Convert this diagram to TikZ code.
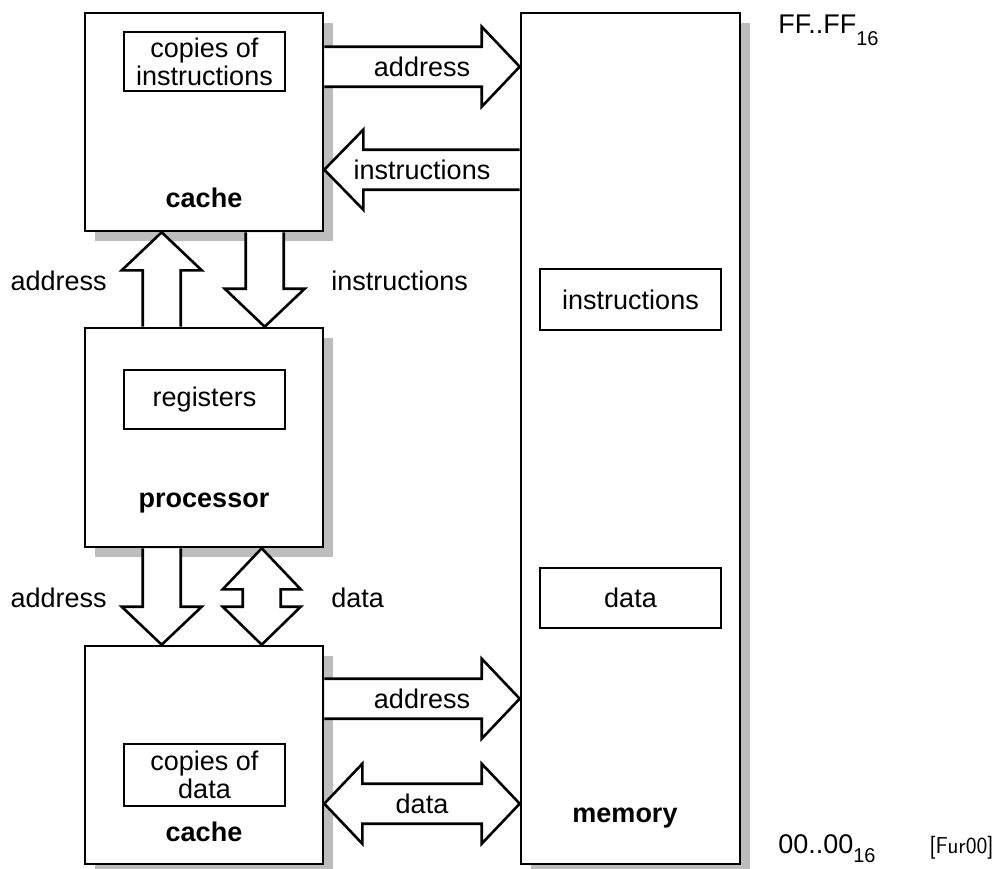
\documentclass[tikz,border=0pt]{standalone}
\usepackage{fontspec}
\setmainfont{Liberation Sans}
\usetikzlibrary{calc,shadows}
\newcommand\RArrow[2]{\draw[barrow] ($(#1)+(0,-20)$) -- ($(#2)+(-38,-20)$) -- ($(#2)+(-38,-40)$) -- (#2) -- ($(#2)+(-38,40)$) -- ($(#2)+(-38,20)$) -- ($(#1)+(0,20)$);}
\newcommand\LArrow[2]{\draw[barrow] ($(#1)+(0,-20)$) -- ($(#2)+(39,-20)$) -- ($(#2)+(39,-40)$) -- (#2) -- ($(#2)+(39,40)$) -- ($(#2)+(39,20)$) -- ($(#1)+(0,20)$);}
\newcommand\HDArrow[2]{\draw[barrow] (#1) -- ($(#1)+(38,-40)$) -- ($(#1)+(38,-20)$) -- ($(#2)+(-38,-20)$) -- ($(#2)+(-38,-40)$) -- (#2) -- ($(#2)+(-38,40)$) -- ($(#2)+(-38,20)$) -- ($(#1)+(38,20)$) -- ($(#1)+(38,40)$) -- cycle;}
\newcommand\UArrow[2]{\draw[barrow] ($(#1)+(-19,0)$) -- ($(#2)+(-19,38)$) -- ($(#2)+(-40,38)$) -- (#2) -- ($(#2)+(40,38)$) -- ($(#2)+(19,38)$) -- ($(#1)+(19,0)$);}
\newcommand\DArrow[2]{\draw[barrow] ($(#1)+(-19,0)$) -- ($(#2)+(-19,-38)$) -- ($(#2)+(-40,-38)$) -- (#2) -- ($(#2)+(40,-38)$) -- ($(#2)+(19,-38)$) -- ($(#1)+(19,0)$);}
\newcommand\VDArrow[2]{\draw[barrow] (#1) -- ($(#1)+(39,41)$) -- ($(#1)+(19,41)$) -- ($(#2)+(19,-38)$) -- ($(#2)+(39,-38)$) -- (#2) -- ($(#2)+(-39,-38)$) -- ($(#2)+(-19,-38)$) -- ($(#1)+(-19,41)$) -- ($(#1)+(-39,41)$) -- cycle;}
\begin{document}
\begin{tikzpicture}[x=1pt,y=-1pt,line width=2.6pt,line join=miter,
  box/.style={draw,fill=white,minimum width=238pt,inner sep=0pt,
    drop shadow={shadow xshift=10pt,shadow yshift=-10pt,fill=black!26,opacity=1}},
  inbox/.style={draw,fill=white,minimum width=161pt,minimum height=60pt,inner sep=0pt,align=center,font=\fontsize{27}{28}\selectfont},
  lbl/.style={font=\fontsize{27}{28}\selectfont,inner sep=0pt},
  ttl/.style={font=\fontsize{27}{28}\selectfont\bfseries,inner sep=0pt},
  barrow/.style={draw,fill=white,line width=2.6pt}]
\useasboundingbox (0,0) rectangle (996,868);
% main boxes
\node[box,minimum height=218pt] (cI) at (204,122) {};
\node[box,minimum height=219pt] (proc) at (204,437.5) {};
\node[box,minimum height=218pt] (cD) at (204,755) {};
\node[box,minimum width=219pt,minimum height=851pt] (mem) at (630.5,438.5) {};
% inner boxes
\node[inbox,minimum height=59pt] (cpi) at (204.5,61.5) {copies of\\instructions};
\node[inbox,minimum height=59pt] (reg) at (204.5,399.5) {registers};
\node[inbox,minimum height=62pt] (cpd) at (204.5,775) {copies of\\data};
\node[inbox,minimum width=181pt,minimum height=61pt] (mi) at (630.5,299.5) {instructions};
\node[inbox,minimum width=181pt,minimum height=60pt] (md) at (630.5,598) {data};
% titles
\node[ttl] (tcI) at (204,198) {cache};
\node[ttl] (tproc) at (204,503) {processor};
\node[ttl] (tcD) at (204,832) {cache};
\node[ttl] (tmem) at (625,818) {memory};
% horizontal arrows
\coordinate (t1s) at ($(cI.north east)+(0,55)$);
\coordinate (t1e) at (mem.west |- t1s);
\RArrow{t1s}{t1e}
\node[lbl] (la1) at ($(t1s)!0.5!(t1e)$) {address};
\coordinate (t2s) at ($(mem.north west)+(0,158)$);
\coordinate (t2e) at (cI.east |- t2s);
\LArrow{t2s}{t2e}
\node[lbl] (la2) at ($(t2s)!0.5!(t2e)$) {instructions};
\coordinate (b1s) at ($(cD.north east)+(0,54)$);
\coordinate (b1e) at (mem.west |- b1s);
\RArrow{b1s}{b1e}
\node[lbl] (la3) at ($(b1s)!0.5!(b1e)$) {address};
\coordinate (b2a) at ($(cD.north east)+(0,159)$);
\coordinate (b2b) at (mem.west |- b2a);
\HDArrow{b2a}{b2b}
\node[lbl] (la4) at ($(b2a)!0.5!(b2b)$) {data};
% vertical arrows
\coordinate (v1s) at ($(proc.north west)+(78,0)$);
\coordinate (v1e) at (cI.south -| v1s);
\UArrow{v1s}{v1e}
\coordinate (v2s) at ($(cI.south west)+(181,0)$);
\coordinate (v2e) at (proc.north -| v2s);
\DArrow{v2s}{v2e}
\coordinate (v3s) at ($(proc.south west)+(78,0)$);
\coordinate (v3e) at (cD.north -| v3s);
\DArrow{v3s}{v3e}
\coordinate (v4a) at ($(proc.south west)+(178,0)$);
\coordinate (v4b) at (cD.north -| v4a);
\VDArrow{v4a}{v4b}
% side labels
\node[lbl,anchor=east] (lv1) at (108,281) {address};
\node[lbl,anchor=west] (lv2) at (330,281) {instructions};
\node[lbl,anchor=east] (lv3) at (108,598) {address};
\node[lbl,anchor=west] (lv4) at (330,598) {data};
% address range
\node[lbl,anchor=base west] (ff) at (777,33) {FF..FF\raisebox{-12pt}{\fontsize{20}{20}\selectfont 16}};
\node[lbl,anchor=base west] (zz) at (777,853) {00..00\raisebox{-9pt}{\fontsize{20}{20}\selectfont 16}};
\node[font=\sffamily\fontsize{23}{23}\selectfont,anchor=base east,inner sep=0pt] (ref) at (995,853) {[Fur00]};
\end{tikzpicture}
\end{document}
